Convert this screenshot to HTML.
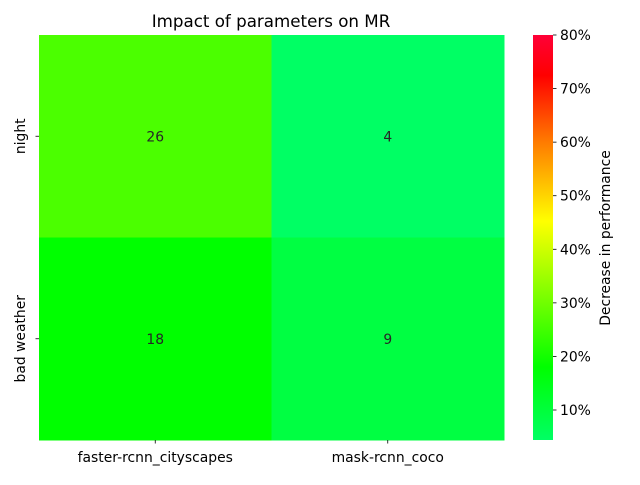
<!DOCTYPE html>
<html><head><meta charset="utf-8"><style>
body{margin:0;background:#fff;font-family:"Liberation Sans","DejaVu Sans",sans-serif;}
svg text{font-family:"DejaVu Sans","Liberation Sans",sans-serif;}
</style></head><body>
<svg id="chart" width="640" height="480" viewBox="0 0 640 480">
<defs>
<linearGradient id="cbg" x1="0" y1="1" x2="0" y2="0">
<stop offset="0" stop-color="rgb(0,255,100)"/>
<stop offset="0.18" stop-color="rgb(0,255,0)"/>
<stop offset="0.54" stop-color="rgb(255,255,0)"/>
<stop offset="0.74" stop-color="rgb(255,120,0)"/>
<stop offset="0.9" stop-color="rgb(255,0,0)"/>
<stop offset="1" stop-color="rgb(255,0,55)"/>
</linearGradient>
</defs>
<text x="271" y="27" text-anchor="middle" font-size="16.7" fill="#000">Impact of parameters on MR</text>
<g id="cells"></g>
<g id="xticks"></g>
<g id="yticks"></g>
<rect x="533" y="35" width="20" height="405" fill="url(#cbg)"/>
<g id="cbticks"></g>
<text transform="translate(610,238) rotate(-90)" text-anchor="middle" font-size="13.9" fill="#000">Decrease in performance</text>
</svg>
<script>
const columns = ["faster-rcnn_cityscapes", "mask-rcnn_coco"];
const rows = ["night", "bad weather"];
const values = [[26, 4], [18, 9]];
const cbTicks = [10, 20, 30, 40, 50, 60, 70, 80];
const vmin = 4.4, vmax = 80;

const NS = "http://www.w3.org/2000/svg";
const L = 39, R = 504, T = 35, B = 440;
const cw = (R - L) / columns.length, rh = (B - T) / rows.length;
const stops = [[0,[0,255,100]],[0.18,[0,255,0]],[0.54,[255,255,0]],[0.74,[255,120,0]],[0.9,[255,0,0]],[1,[255,0,55]]];
function color(v){
  let t = Math.max(0, Math.min(1, (v - vmin) / (vmax - vmin)));
  for (let i = 1; i < stops.length; i++) {
    if (t <= stops[i][0]) {
      const a = stops[i-1], b = stops[i], f = (t - a[0]) / (b[0] - a[0]);
      const c = a[1].map((x, k) => Math.round(x + (b[1][k] - x) * f));
      return `rgb(${c.join(",")})`;
    }
  }
  return "rgb(255,0,55)";
}
function cbY(v){ return B - (v - vmin) / (vmax - vmin) * (B - T); }
function mk(tag, attrs, parent){ const e = document.createElementNS(NS, tag); for (const k in attrs) e.setAttribute(k, attrs[k]); parent.appendChild(e); return e; }

const cells = document.getElementById("cells");
rows.forEach((r, i) => columns.forEach((c, j) => {
  const rect = mk("rect", {x: L + j*cw, y: T + i*rh, width: cw + 0.5, height: rh + 0.5, fill: color(values[i][j])}, cells);
  
  
  const t = mk("text", {x: L + (j+0.5)*cw, y: T + (i+0.5)*rh + 5, "text-anchor": "middle", "font-size": 13.9, fill: "#262626"}, cells);
  t.textContent = values[i][j];
  
  
}));
const xt = document.getElementById("xticks");
columns.forEach((c, j) => {
  const x = L + (j+0.5)*cw;
  mk("line", {x1: x, x2: x, y1: B, y2: B+3.5, stroke: "#000", "stroke-width": 0.8}, xt);
  const t = mk("text", {x: x, y: B+22, "text-anchor": "middle", "font-size": 13.9, fill: "#000"}, xt);
  t.textContent = c;
  
  
});
const yt = document.getElementById("yticks");
rows.forEach((r, i) => {
  const y = T + (i+0.5)*rh;
  mk("line", {x1: L-3.5, x2: L, y1: y, y2: y, stroke: "#000", "stroke-width": 0.8}, yt);
  const t = mk("text", {transform: `translate(${L-14},${y}) rotate(-90)`, "text-anchor": "middle", "font-size": 13.9, fill: "#000"}, yt);
  t.textContent = r;
  
  
});
const cb = document.getElementById("cbticks");
cbTicks.forEach(v => {
  const y = cbY(v);
  mk("line", {x1: 553, x2: 556.5, y1: y, y2: y, stroke: "#000", "stroke-width": 0.8}, cb);
  const t = mk("text", {x: 560, y: y + 5, "font-size": 13.9, fill: "#000"}, cb);
  t.textContent = v + "%";
  
  
});
</script>
</body></html>
